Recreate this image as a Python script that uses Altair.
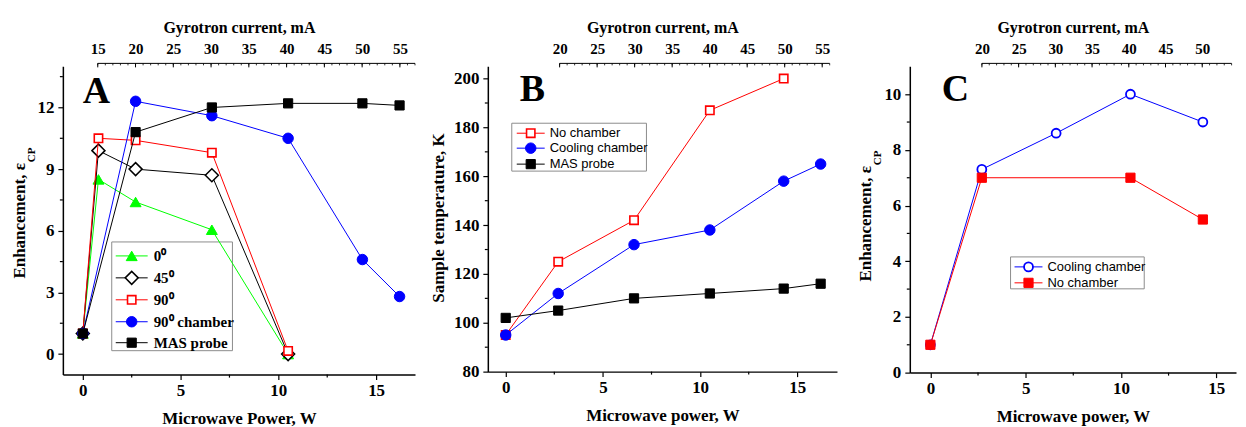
import altair as alt
import pandas as pd

# ---------------- data ----------------
# Panel A: enhancement vs microwave power
A_power_0deg = [0, 0.8, 2.7, 6.6, 10.5]
A_enh_0deg = [1.0, 8.5, 7.4, 6.05, 0.0]
A_power_45deg = [0, 0.8, 2.7, 6.6, 10.5]
A_enh_45deg = [1.0, 9.9, 9.0, 8.7, 0.0]
A_power_90deg = [0, 0.8, 2.7, 6.6, 10.5]
A_enh_90deg = [1.0, 10.5, 10.4, 9.8, 0.15]
A_power_90ch = [0, 2.7, 6.6, 10.5, 14.3, 16.2]
A_enh_90ch = [1.0, 12.3, 11.6, 10.5, 4.6, 2.8]
A_power_mas = [0, 2.7, 6.6, 10.5, 14.3, 16.2]
A_enh_mas = [1.0, 10.8, 12.0, 12.2, 12.2, 12.1]

# Panel B: sample temperature vs microwave power
B_power_nochamber = [0, 2.7, 6.6, 10.5, 14.3]
B_temp_nochamber = [95, 125, 142, 187, 200]
B_power_cooling = [0, 2.7, 6.6, 10.5, 14.3, 16.2]
B_temp_cooling = [95, 112, 132, 138, 158, 165]
B_power_mas = [0, 2.7, 6.6, 10.5, 14.3, 16.2]
B_temp_mas = [102, 105, 110, 112, 114, 116]

# Panel C: enhancement vs microwave power
C_power_cooling = [0, 2.7, 6.6, 10.5, 14.3]
C_enh_cooling = [1.0, 7.3, 8.6, 10.0, 9.0]
C_power_nochamber = [0, 2.7, 10.5, 14.3]
C_enh_nochamber = [1.0, 7.0, 7.0, 5.5]

# axis ticks
power_major = [0, 5, 10, 15]
power_minor = [2.5, 7.5, 12.5]
A_y_major = [0, 3, 6, 9, 12]
A_y_minor = [1.5, 4.5, 7.5, 10.5, 13.5]
B_y_major = [80, 100, 120, 140, 160, 180, 200]
B_y_minor = [90, 110, 130, 150, 170, 190]
C_y_major = [0, 2, 4, 6, 8, 10]
C_y_minor = [1, 3, 5, 7, 9]
A_gyro_labels = [15, 20, 25, 30, 35, 40, 45, 50, 55]
B_gyro_labels = [20, 25, 30, 35, 40, 45, 50, 55]
C_gyro_labels = [20, 25, 30, 35, 40, 45, 50]

SERIF = "Liberation Serif, Times New Roman, serif"
SANS = "Liberation Sans, Arial, sans-serif"
GREEN, RED, BLUE, BLACK = "#00ff00", "#ff0000", "#0000ff", "#000000"

one = pd.DataFrame({"k": [0]})


def panel(series, xdom, ydom, width, height, ymaj, ymin, xtitle,
          gdom, gstart, gend, glabels, letter, letter_xy,
          ytitle, ysub, ytitle_xy, ysub_x, legend):
    lab = dict(labelFont=SERIF, labelFontWeight="bold", labelFontSize=17,
               labelColor="black", domainColor="black", domainWidth=1.5,
               tickColor="black", tickWidth=1.2, grid=False)
    xenc = alt.X("x:Q", scale=alt.Scale(domain=xdom, nice=False, zero=False),
                 axis=alt.Axis(values=power_major, title=xtitle, tickSize=5,
                               labelPadding=3, titleFont=SERIF, titleFontWeight="bold",
                               titleFontSize=17, titleColor="black", titlePadding=12, **lab))
    yenc = alt.Y("y:Q", scale=alt.Scale(domain=ydom, nice=False, zero=False),
                 axis=alt.Axis(values=ymaj, title=None, tickSize=5, labelPadding=4, **lab))
    layers = []
    # legend box (underneath)
    bx0, bx1, by0, by1 = legend["box"]
    layers.append(alt.Chart(one).mark_rect(fill="white", fillOpacity=0, stroke="#8c8c8c",
                                           strokeWidth=1).encode(
        x=alt.value(bx0), x2=alt.value(bx1), y=alt.value(by0), y2=alt.value(by1)))
    # minor ticks
    layers.append(alt.Chart(pd.DataFrame({"x": power_minor})).mark_rule(
        color="black", strokeWidth=1.2).encode(x=xenc, y=alt.value(height), y2=alt.value(height + 3)))
    layers.append(alt.Chart(pd.DataFrame({"y": ymin})).mark_rule(
        color="black", strokeWidth=1.2).encode(y=yenc, x=alt.value(-3), x2=alt.value(0)))
    # data series
    for s in series:
        df = pd.DataFrame({"x": s["x"], "y": s["y"]})
        layers.append(alt.Chart(df).mark_line(color=s["color"], strokeWidth=1).encode(x=xenc, y=yenc))
        layers.append(alt.Chart(df).mark_point(
            shape=s["shape"], size=s["size"], filled=True,
            fill=(s["color"] if s["filled"] else "white"), stroke=s["color"],
            strokeWidth=s["sw"], opacity=1).encode(x=xenc, y=yenc))
    main = alt.layer(*layers)

    # top (gyrotron current) axis
    gaxis = alt.Axis(orient="top", values=glabels, title="Gyrotron current, mA", ticks=False,
                     domain=False, labelFont=SERIF, labelFontWeight="bold", labelFontSize=15,
                     labelColor="black", labelPadding=10, titleFont=SERIF, titleFontWeight="bold",
                     titleFontSize=16, titleColor="black", titlePadding=6, grid=False)
    gx = alt.X("g:Q", scale=alt.Scale(domain=gdom, nice=False, zero=False), axis=gaxis)
    gline = alt.Chart(pd.DataFrame({"g": [gstart], "g2": [gend]})).mark_rule(
        color="black", strokeWidth=1).encode(x=gx, x2="g2:Q", y=alt.value(-3))
    gmaj = alt.Chart(pd.DataFrame({"g": glabels})).mark_rule(color="black", strokeWidth=1).encode(
        x=gx, y=alt.value(-3), y2=alt.value(1))
    gmin = alt.Chart(pd.DataFrame({"g": list(range(gstart, int(gend) + 1))})).mark_rule(
        color="black", strokeWidth=0.8).encode(x=gx, y=alt.value(-3), y2=alt.value(-1))
    top = alt.layer(gline, gmaj, gmin)

    deco = []
    # legend entries
    lx0, lx1 = legend["line"]
    for e, yy in zip(legend["entries"], legend["ys"]):
        deco.append(alt.Chart(one).mark_rule(color=e["color"], strokeWidth=1).encode(
            x=alt.value(lx0), x2=alt.value(lx1), y=alt.value(yy)))
        deco.append(alt.Chart(one).mark_point(
            shape=e["shape"], size=e["size"], filled=True,
            fill=(e["color"] if e["filled"] else "white"), stroke=e["color"],
            strokeWidth=e["sw"], opacity=1).encode(x=alt.value((lx0 + lx1) / 2), y=alt.value(yy)))
        deco.append(alt.Chart(pd.DataFrame({"t": [e["label"]]})).mark_text(
            align="left", baseline="middle", font=legend["font"], fontSize=legend["fs"],
            fontWeight=legend["fw"], color="black").encode(
            x=alt.value(legend["tx"]), y=alt.value(yy), text="t:N"))
    # panel letter
    deco.append(alt.Chart(pd.DataFrame({"t": [letter]})).mark_text(
        align="left", baseline="alphabetic", font=SERIF, fontSize=38, fontWeight="bold",
        color="black").encode(x=alt.value(letter_xy[0]), y=alt.value(letter_xy[1]), text="t:N"))
    # y title (with subscript)
    if ysub:
        deco.append(alt.Chart(pd.DataFrame({"t": [ytitle]})).mark_text(
            angle=270, align="right", baseline="alphabetic", font=SERIF, fontSize=17,
            fontWeight="bold", color="black").encode(
            x=alt.value(ytitle_xy[0]), y=alt.value(ytitle_xy[1]), text="t:N"))
        deco.append(alt.Chart(pd.DataFrame({"t": [ysub]})).mark_text(
            angle=270, align="left", baseline="alphabetic", font=SERIF, fontSize=11,
            fontWeight="bold", color="black").encode(
            x=alt.value(ysub_x), y=alt.value(ytitle_xy[1] - 1), text="t:N"))
    else:
        deco.append(alt.Chart(pd.DataFrame({"t": [ytitle]})).mark_text(
            angle=270, align="center", baseline="alphabetic", font=SERIF, fontSize=17,
            fontWeight="bold", color="black").encode(
            x=alt.value(ytitle_xy[0]), y=alt.value(ytitle_xy[1]), text="t:N"))

    return alt.layer(main, top, *deco).resolve_scale(x="independent").properties(
        width=width, height=height)


def S(x, y, color, shape, filled, size, sw, label=None):
    return dict(x=x, y=y, color=color, shape=shape, filled=filled, size=size, sw=sw, label=label)


tri = "triangle-up"
A_series = [
    S(A_power_0deg, A_enh_0deg, GREEN, tri, True, 120, 1, "0\u2070"),
    S(A_power_45deg, A_enh_45deg, BLACK, "diamond", False, 170, 1.5, "45\u2070"),
    S(A_power_90deg, A_enh_90deg, RED, "square", False, 70, 1.6, "90\u2070"),
    S(A_power_90ch, A_enh_90ch, BLUE, "circle", True, 110, 1, "90\u2070 chamber"),
    S(A_power_mas, A_enh_mas, BLACK, "square", True, 85, 1, "MAS probe"),
]
B_series = [
    S(B_power_nochamber, B_temp_nochamber, RED, "square", False, 70, 1.6, "No chamber"),
    S(B_power_cooling, B_temp_cooling, BLUE, "circle", True, 110, 1, "Cooling chamber"),
    S(B_power_mas, B_temp_mas, BLACK, "square", True, 85, 1, "MAS probe"),
]
C_series = [
    S(C_power_cooling, C_enh_cooling, BLUE, "circle", False, 80, 1.8, "Cooling chamber"),
    S(C_power_nochamber, C_enh_nochamber, RED, "square", True, 85, 1, "No chamber"),
]

A = panel(A_series, [-1.02, 16.99], [-1, 14], 353, 309, A_y_major, A_y_minor,
          "Microwave Power, W", [10.38, 57.0], 15, 57, A_gyro_labels, "A", (20, 37),
          "Enhancement, \u03b5", "CP", (-38, 97), -28,
          dict(box=(49, 170, 176, 285), line=(53, 85), tx=91, ys=[190, 212, 234, 256, 277],
               entries=A_series, font=SERIF, fs=15, fw="bold"))
B = panel(B_series, [-0.92, 17.04], [80, 205], 350, 306, B_y_major, B_y_minor,
          "Microwave power, W", [10.43, 56.97], 20, 56, B_gyro_labels, "B", (32, 35),
          "Sample temperature, K", None, (-44, 152), 0,
          dict(box=(24, 159, 57, 105), line=(29, 57), tx=62, ys=[67, 82, 98],
               entries=B_series, font=SANS, fs=13, fw="normal"))
C = panel(C_series, [-1.08, 16.04], [0, 11], 327, 307, C_y_major, C_y_minor,
          "Microwave power, W", [10.18, 54.6], 20, 54, C_gyro_labels, "C", (32, 35),
          "Enhancement, \u03b5", "CP", (-39, 100), -29,
          dict(box=(101, 235, 191, 223), line=(105, 133), tx=138, ys=[201, 217],
               entries=C_series, font=SANS, fs=13, fw="normal"))

chart = alt.hconcat(A, B, C, spacing=73, bounds="flush").properties(
    padding={"left": 3, "top": 11, "right": 2, "bottom": 2}
).configure_view(stroke=None)

chart.save("out.html", embed_options={"renderer": "svg", "actions": False})
